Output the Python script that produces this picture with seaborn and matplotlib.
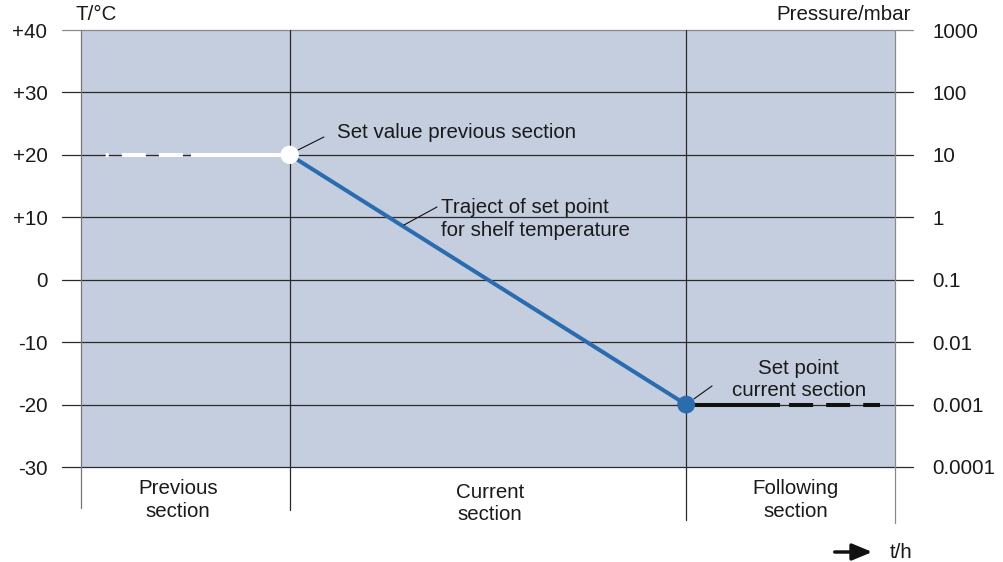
import numpy as np
import pandas as pd
import matplotlib
matplotlib.use('Agg')
import matplotlib.pyplot as plt
import seaborn as sns

sns.set_theme(style='white')
plt.rcParams['font.family'] = ['Liberation Sans', 'DejaVu Sans']
plt.rcParams['lines.scale_dashes'] = False

# section layout (time axis, arbitrary units)
sections = ['Previous\nsection', 'Current\nsection', 'Following\nsection']
section_edges = [0, 1.0, 2.9, 3.9]
section_label_x = [0.465, 1.96, 3.426]
section_label_y = [-35.3, -35.9, -35.3]

# axes ticks
temp_ticks = [40, 30, 20, 10, 0, -10, -20, -30]
temp_labels = ['+40', '+30', '+20', '+10', '0', '-10', '-20', '-30']
pressure_labels = ['1000', '100', '10', '1', '0.1', '0.01', '0.001', '0.0001']

# set point curves
prev_t = [1.0, 0.115]
prev_T = [20, 20]
ramp_t = [1.0, 2.9]
ramp_T = [20, -20]
next_t = [2.9, 3.828]
next_T = [-20, -20]

bg = '#c5cedf'
blue = '#2b6cb0'
txt = '#1a1a1a'
fs = 14.8

fig = plt.figure(figsize=(10.04, 5.62), dpi=100)
ax = fig.add_axes([62/1004, 1-467/562, (913-62)/1004, (467-30)/562])
ax.set_xlim(-0.091, 3.987)
ax.set_ylim(-30, 40)
for s in ax.spines.values():
    s.set_visible(False)
ax.set_facecolor('none')

# shaded chart area
ax.axvspan(section_edges[0], section_edges[-1], color=bg, zorder=0, lw=0)

# horizontal grid
for t in temp_ticks:
    c = '#8a8a8a' if t == 40 else '#2a2a2a'
    ax.axhline(t, color=c, lw=0.9, zorder=1, clip_on=False)

# section boundaries, extending below the chart
vline_bottom = [-36.6, -36.9, -38.5, -39.0]
vline_col = ['#777777', '#2a2a2a', '#2a2a2a', '#8a8a8a']
for x, yb, c in zip(section_edges, vline_bottom, vline_col):
    ax.plot([x, x], [40, yb], color=c, lw=0.9, zorder=1, clip_on=False)

for lab, x, y in zip(sections, section_label_x, section_label_y):
    ax.text(x, y, lab, ha='center', va='center', fontsize=fs, color=txt,
            linespacing=1.22, clip_on=False)

# curves
ax.plot(prev_t, prev_T, color='white', lw=2.9, zorder=3,
        dashes=(71.3, 5.8, 17.3, 9.4, 17.3, 9.4, 2.2, 60))
sns.lineplot(x=ramp_t, y=ramp_T, color=blue, lw=2.9, ax=ax, zorder=3)
ax.plot(next_t, next_T, color='#111111', lw=2.9, zorder=3,
        dashes=(67.7, 6.5, 17.3, 9.4, 17.3, 9.4, 17.3, 9.4))
sns.scatterplot(x=[ramp_t[0]], y=[ramp_T[0]], color='white', s=175, ax=ax,
                zorder=4, edgecolor='none')
sns.scatterplot(x=[ramp_t[1]], y=[ramp_T[1]], color=blue, s=165, ax=ax,
                zorder=4, edgecolor='none')

# annotations
lead = dict(arrowstyle='-', color='#111111', lw=0.8, shrinkA=0, shrinkB=0)
ax.annotate('', xy=(1.040, 20.78), xytext=(1.164, 22.86), arrowprops=lead)
ax.text(1.227, 23.66, 'Set value previous section', fontsize=fs, va='center',
        ha='left', color=txt)
ax.annotate('', xy=(1.548, 8.77), xytext=(1.706, 11.65), arrowprops=lead)
ax.text(1.725, 9.73, 'Traject of set point\nfor shelf temperature', fontsize=fs,
        va='center', ha='left', color=txt, linespacing=1.22)
ax.annotate('', xy=(2.937, -19.1), xytext=(3.024, -17.02), arrowprops=lead)
ax.text(3.44, -15.98, 'Set point\ncurrent section', fontsize=fs, va='center',
        ha='center', color=txt, linespacing=1.22)

# left temperature axis
ax.set_xticks([])
ax.set_yticks(temp_ticks)
ax.set_yticklabels(temp_labels, fontsize=fs, color=txt)
ax.tick_params(axis='y', length=0, pad=10.5)
ax.set_xlabel('')
ax.set_ylabel('')

# right pressure axis
ax2 = ax.twinx()
ax2.set_ylim(-30, 40)
ax2.set_yticks(temp_ticks)
ax2.set_yticklabels(pressure_labels, fontsize=fs, color=txt)
ax2.tick_params(axis='y', length=0, pad=13.7)
for s in ax2.spines.values():
    s.set_visible(False)

fig.text(75/1004, 1-15/562, 'T/°C', fontsize=fs, ha='left', va='center', color=txt)
fig.text(911/1004, 1-15/562, 'Pressure/mbar', fontsize=fs, ha='right', va='center',
         color=txt)

# time arrow
fig.patches.append(matplotlib.patches.FancyArrowPatch(
    (832/1004, 10/562), (875/1004, 10/562), transform=fig.transFigure,
    arrowstyle='-|>,head_length=1.2,head_width=0.5', mutation_scale=10,
    color='#111111', lw=2.5))
fig.text(890/1004, 10/562, 't/h', fontsize=fs, ha='left', va='center', color=txt)

fig.savefig('out.png', dpi=100, facecolor='white')
